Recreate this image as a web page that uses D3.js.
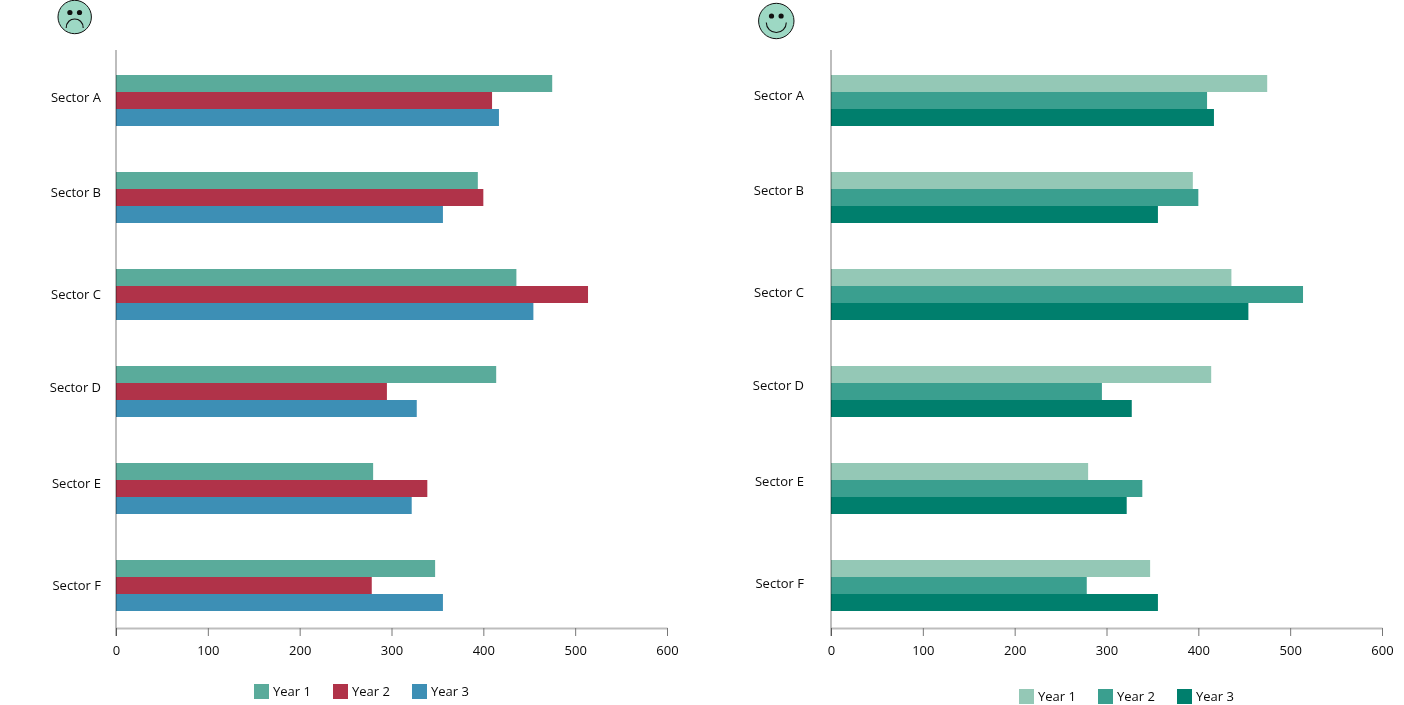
<!DOCTYPE html>
<html><head><meta charset="utf-8">
<script src="https://cdn.jsdelivr.net/npm/d3@7/dist/d3.min.js"></script>
<style>html,body{margin:0;padding:0;background:#fff;overflow:hidden}svg{display:block}text{font-family:"Open Sans","Noto Sans",sans-serif;font-size:13px;fill:#0a0a0a}</style>
</head><body><svg id="c" width="1404" height="705"></svg>
<script>
const sectors=["Sector A","Sector B","Sector C","Sector D","Sector E","Sector F"];
const years=["Year 1","Year 2","Year 3"];
const year1=[475,394,436,414,280,347.5];
const year2=[409.5,400,514,295,339,278.5];
const year3=[417,356,454.5,327.5,322,356];
const ticks=[0,100,200,300,400,500,600];
const series=[year1,year2,year3];
const leftColors=["#5aab9b","#b03349","#3d8fb5"];
const rightColors=["#94c8b6","#3a9f8f","#007f6d"];

const svg=d3.select("#c");
const labelShift=[-3.5,-5.5,0,-4.5,-5.5,0];

function panel(o){
  const g=svg.append("g");
  const x=d3.scaleLinear().domain([0,600]).range([o.x0,o.x0+551]);
  const y=d3.scaleBand().domain(sectors).range([52,634]);
  const inner=d3.scaleBand().domain(years).range([0,51]);
  years.forEach((yr,k)=>{
    g.append("g").selectAll("rect").data(series[k]).join("rect")
      .attr("x",x(0)).attr("y",(d,i)=>y(sectors[i])+23+inner(yr))
      .attr("width",d=>x(d)-x(0)).attr("height",inner.bandwidth()).attr("fill",o.colors[k]);
  });
  const axis=g.append("g").attr("transform","translate(0,628)").call(d3.axisBottom(x).tickValues(ticks).tickSize(8).tickSizeOuter(0).tickPadding(10));
  axis.select(".domain").attr("stroke","#bdbdbd").attr("stroke-width",2);
  axis.selectAll(".tick line").attr("stroke","#777");
  axis.selectAll("text").style("font-family",'"Open Sans","Noto Sans",sans-serif').style("font-size","13px").attr("fill","#0a0a0a");
  g.append("line").attr("x1",o.x0).attr("x2",o.x0).attr("y1",50).attr("y2",636).attr("stroke","#bdbdbd").attr("stroke-width",2).style("mix-blend-mode","multiply");
  g.append("g").selectAll("text").data(sectors).join("text")
    .attr("x",o.labelX).attr("y",(d,i)=>y(d)+y.bandwidth()/2+o.labelDy+labelShift[i]+4.5)
    .attr("text-anchor","end").text(d=>d);
  const leg=g.append("g");
  years.forEach((yr,k)=>{
    leg.append("rect").attr("x",o.legX+79*k).attr("y",o.legY).attr("width",15).attr("height",15).attr("fill",o.colors[k]);
    leg.append("text").attr("x",o.legX+79*k+19).attr("y",o.legY+12).text(yr);
  });
  const f=g.append("g").attr("transform",`translate(${o.fx},${o.fy})`);
  f.append("circle").attr("r",o.r).attr("fill","#9dd8c4").attr("stroke","#111").attr("stroke-width",1);
  f.selectAll(".eye").data([-1,1]).join("circle").attr("cx",d=>d*4.8).attr("cy",o.eyeY).attr("r",2.6).attr("fill","#111");
  const mouth=o.happy?"M-10,1.5A10,10 0 0 0 10,1.5":"M-8.5,11C-8.5,-1 8.5,-1 8.5,11";
  f.append("path").attr("d",mouth).attr("fill","none").attr("stroke","#111").attr("stroke-width",1.1);
}
panel({x0:116,colors:leftColors,labelX:101,labelDy:0,legX:254,legY:684,fx:74.7,fy:17,r:16.7,eyeY:-4.5,happy:false});
panel({x0:831,colors:rightColors,labelX:804,labelDy:-2,legX:1019,legY:689,fx:776.3,fy:21,r:17.7,eyeY:-5,happy:true});
</script></body></html>
